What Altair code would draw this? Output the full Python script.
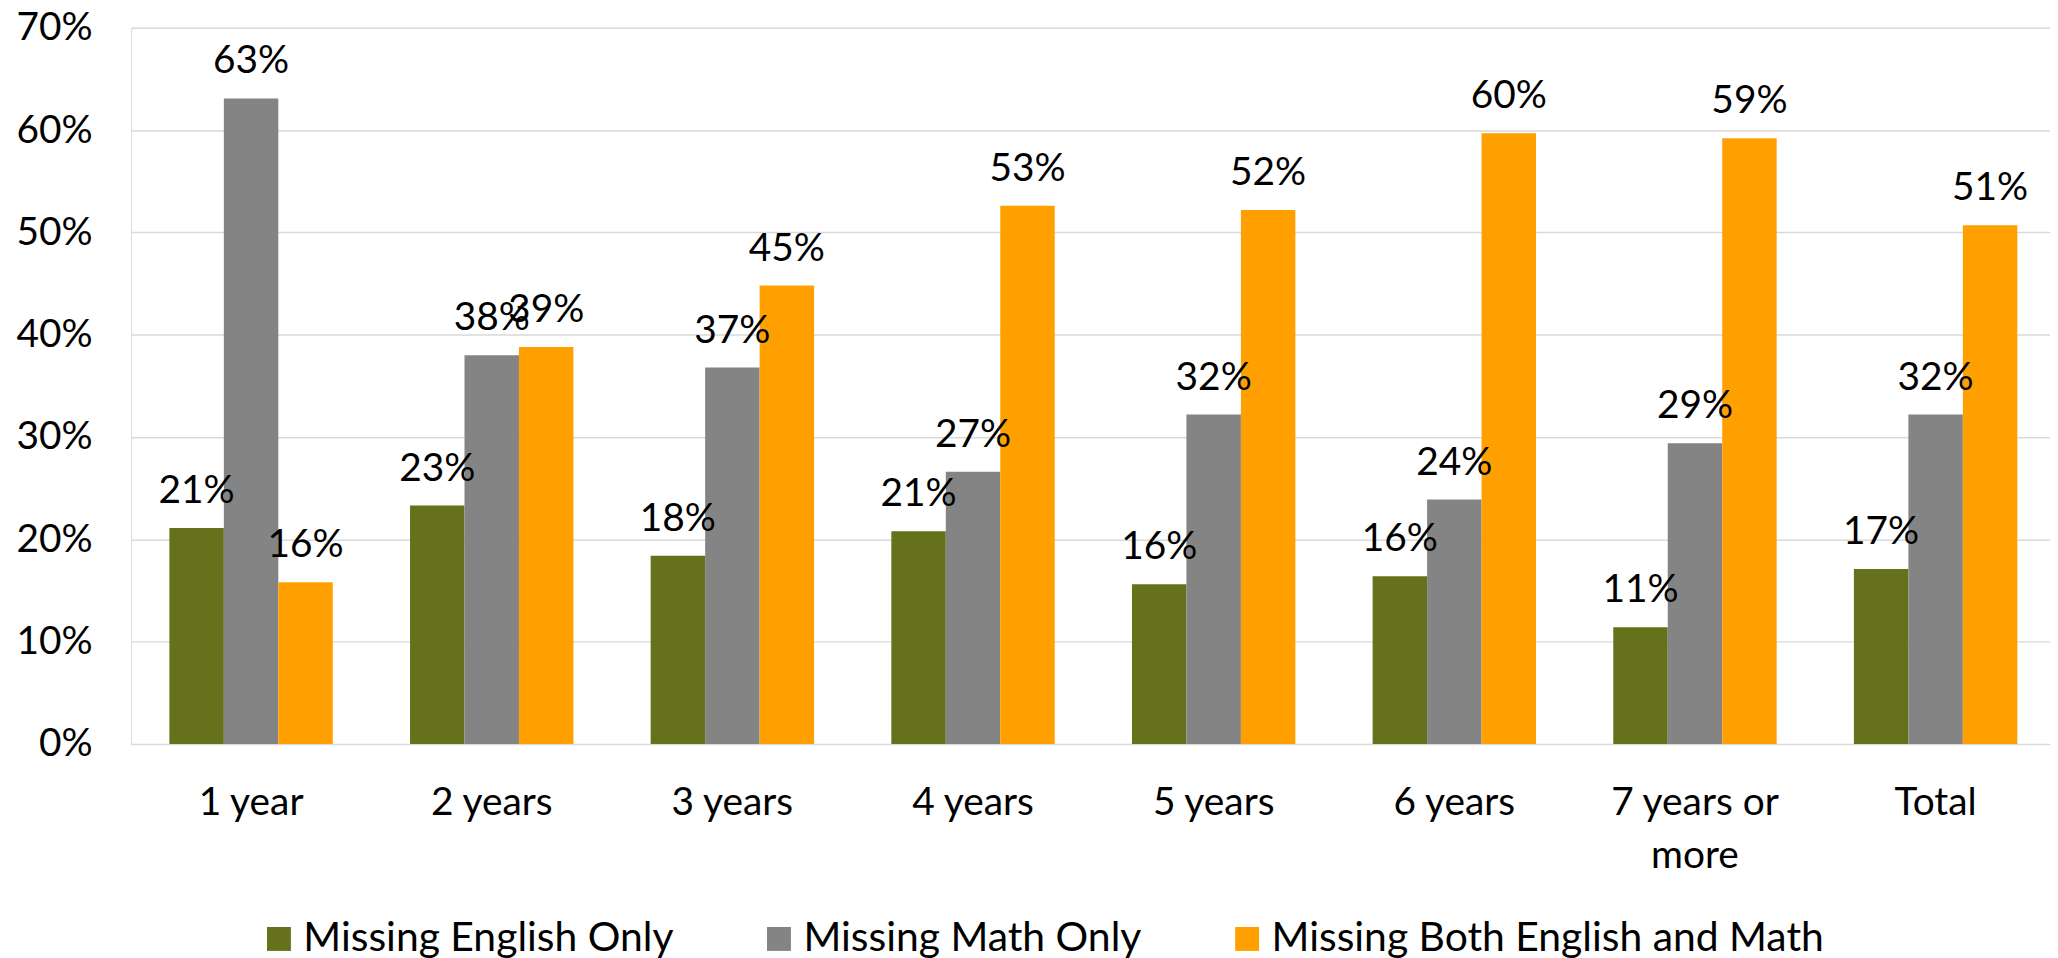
import altair as alt
import pandas as pd

categories = ["1 year", "2 years", "3 years", "4 years", "5 years", "6 years", "7 years or more", "Total"]
series = ["Missing English Only", "Missing Math Only", "Missing Both English and Math"]
english_only = [0.211, 0.233, 0.184, 0.208, 0.156, 0.164, 0.114, 0.171]
math_only = [0.631, 0.380, 0.368, 0.266, 0.322, 0.239, 0.294, 0.322]
both = [0.158, 0.388, 0.448, 0.526, 0.522, 0.597, 0.592, 0.507]
colors = ["#66711B", "#848484", "#FFA000"]
y_ticks = [0.0, 0.1, 0.2, 0.3, 0.4, 0.5, 0.6, 0.7]

rows = []
for i, c in enumerate(categories):
    for s, vals in zip(series, [english_only, math_only, both]):
        rows.append({"category": c, "series": s, "value": vals[i]})
df = pd.DataFrame(rows)

FONT = "Lato"
FS = 39

x_enc = alt.X(
    "category:N", sort=categories,
    scale=alt.Scale(paddingInner=0.321, paddingOuter=0.1476, align=0.54),
    axis=alt.Axis(title=None, labelAngle=0, domain=False, ticks=False, labelPadding=40,
                  labelFont=FONT, labelFontSize=FS, labelColor="black", labelLineHeight=53,
                  labelLimit=600, labelBound=False,
                  labelExpr="datum.label == '7 years or more' ? ['7 years or', 'more'] : datum.label"),
)
xoff = alt.XOffset("series:N", sort=series, scale=alt.Scale(paddingInner=0, paddingOuter=0))
y_enc = alt.Y(
    "value:Q", scale=alt.Scale(domain=[0, 0.7], nice=False),
    axis=alt.Axis(title=None, values=y_ticks, format=".0%", domain=False, ticks=False,
                  labelPadding=39, grid=True, gridColor="#D9D9D9", gridWidth=1.5,
                  labelFont=FONT, labelFontSize=FS, labelColor="black"),
)
color = alt.Color(
    "series:N", sort=series, scale=alt.Scale(domain=series, range=colors),
    legend=alt.Legend(title=None, orient="none", legendX=128, legendY=894, direction="horizontal",
                      symbolType="square", symbolSize=576, symbolStrokeWidth=0,
                      labelFont=FONT, labelFontSize=41, labelColor="black", labelOffset=4,
                      columnPadding=85, padding=0, labelLimit=900),
)

base = alt.Chart(df)
bars = base.mark_bar().encode(x=x_enc, xOffset=xoff, y=y_enc, color=color)
labels = base.mark_text(baseline="alphabetic", dy=-25, font=FONT, fontSize=FS, color="black").encode(
    x=x_enc, xOffset=xoff, y=y_enc, text=alt.Text("value:Q", format=".0%")
)

chart = (bars + labels).properties(
    width=1926.5, height=719,
    padding={"left": 123.5, "top": 18, "right": 0, "bottom": 213},
    autosize=alt.AutoSizeParams(type="none"),
).configure_view(stroke=None).configure(background="white")

chart.save("out.html", embed_options={"renderer": "svg", "actions": False})
